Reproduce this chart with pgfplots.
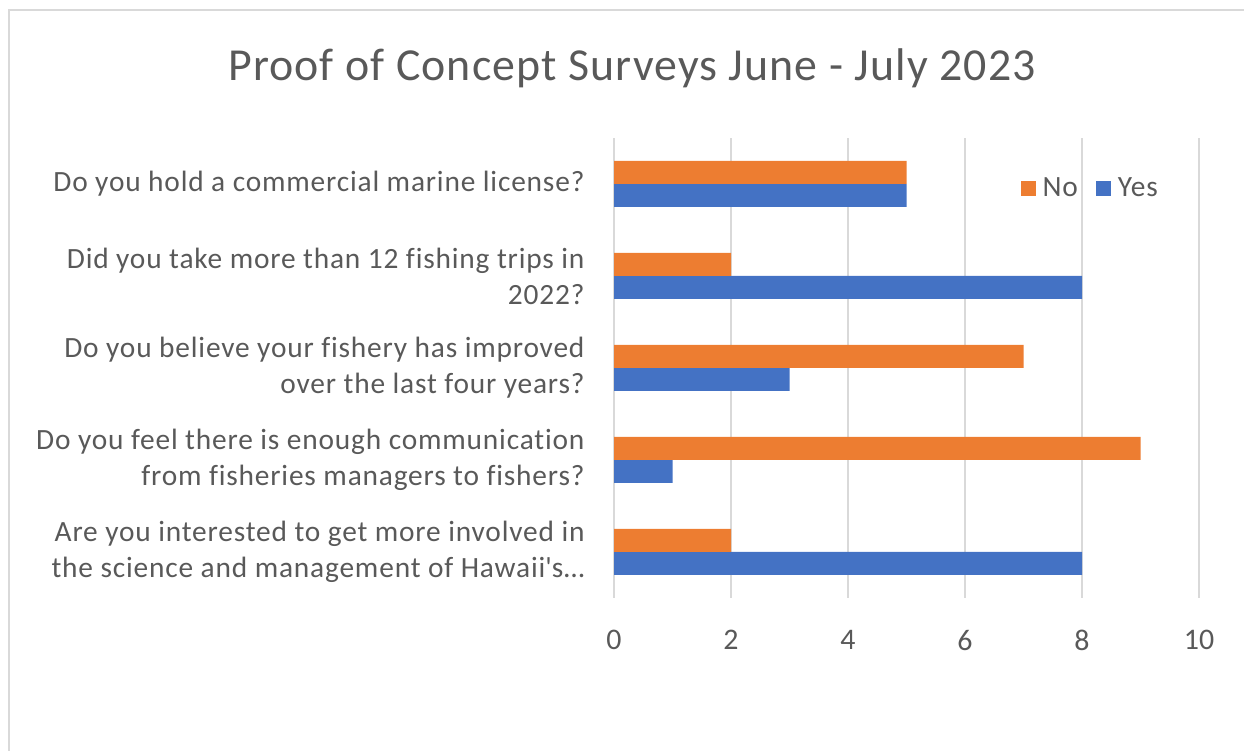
\documentclass[border=0pt]{standalone}
\usepackage{fontspec}
\setmainfont{Carlito}[Ligatures=NoCommon]
\newfontfamily\labf{Carlito}[LetterSpace=2.8, Ligatures=NoCommon]
\newfontfamily\ttlf{Carlito}[LetterSpace=2.4, Ligatures=NoCommon]
\usepackage{pgfplots}
\pgfplotsset{compat=1.18}
\definecolor{cNo}{HTML}{ED7D31}
\definecolor{cYes}{HTML}{4472C4}
\definecolor{txt}{HTML}{595959}
\definecolor{grd}{HTML}{D9D9D9}
\begin{document}
\begin{tikzpicture}[x=1bp,y=1bp]
\path[use as bounding box] (0,0) rectangle (1244,751);
\draw[grd, line width=2.5bp] (9,0) -- (9,741) -- (1244,741);
\node[text=txt, font=\ttlf\fontsize{46}{50}\selectfont] at (632,683) {Proof of Concept Surveys June - July 2023};
\begin{axis}[
  at={(614bp,153bp)}, anchor=south west,
  scale only axis, width=585bp, height=460bp,
  xbar=0pt, bar width=23bp,
  xmin=0, xmax=10, ymin=-0.5, ymax=4.5,
  xtick={0,2,4,6,8,10},
  ytick={0,1,2,3,4},
  yticklabels={{Are you interested to get more involved in\\the science and management of Hawaii\textquotesingle s\ldots},
               {Do you feel there is enough communication\\from fisheries managers to fishers?},
               {Do you believe your fishery has improved\\over the last four years?},
               {Did you take more than 12 fishing trips in\\2022?},
               {Do you hold a commercial marine license?}},
  axis line style={draw=none},
  major tick length=0pt,
  xmajorgrids, grid style={grd, line width=1.5bp},
  /pgf/number format/assume math mode=true,
  xticklabel style={text=txt, font=\fontsize{30}{34}\selectfont, yshift=-29bp},
  yticklabel style={text=txt, align=right, font=\labf\fontsize{29.5}{36}\selectfont, xshift=-26bp},
  legend columns=2, reverse legend,
  legend style={draw=none, fill=none, at={(0.814,0.891)}, anchor=center,
    font=\labf\fontsize{29.5}{32}\selectfont, text=txt,
    nodes={inner xsep=2bp},
    /tikz/every odd column/.append style={column sep=5bp},
    /tikz/every even column/.append style={column sep=16bp}},
  legend image code/.code={\fill[#1] (0bp,-7.5bp) rectangle (15bp,7.5bp);},
]
\addplot[fill=cYes, draw=none] coordinates {(8,0) (1,1) (3,2) (8,3) (5,4)};
\addlegendentry{Yes}
\addplot[fill=cNo, draw=none] coordinates {(2,0) (9,1) (7,2) (2,3) (5,4)};
\addlegendentry{No}
\end{axis}
\end{tikzpicture}
\end{document}
